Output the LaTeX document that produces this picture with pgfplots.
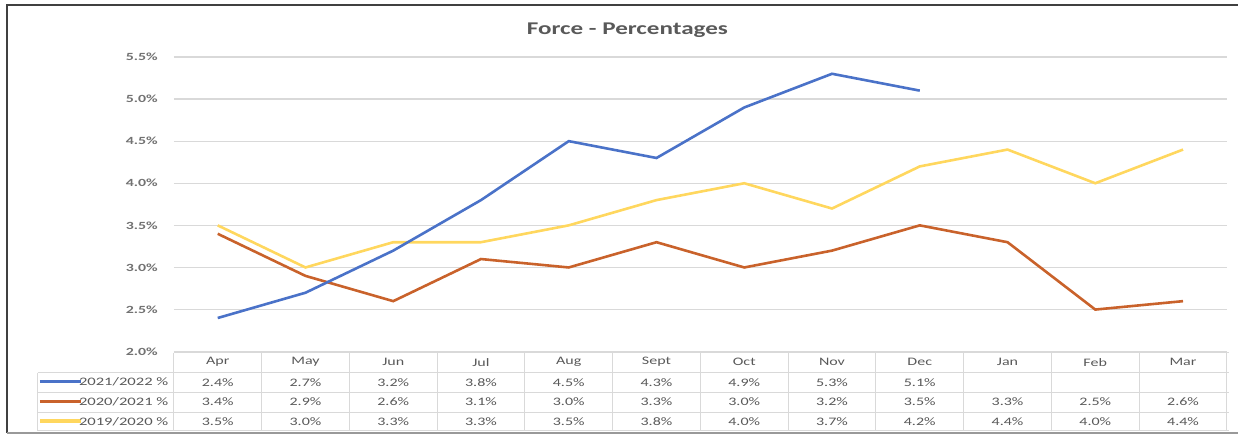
\documentclass[border=0pt]{standalone}
\usepackage{pgfplots}
\pgfplotsset{compat=1.18}
\usepackage{graphicx}
\usepackage{fontspec}
\setmainfont{Carlito}
\definecolor{cblue}{HTML}{4A72C8}
\definecolor{corange}{HTML}{C9622B}
\definecolor{cyellow}{HTML}{FFD75E}
\definecolor{txt}{HTML}{595959}
\definecolor{tline}{HTML}{D9D9D9}
\newcommand{\wx}[1]{\scalebox{1.4}[1]{#1}}
\begin{document}
\begin{tikzpicture}[x=1bp,y=1bp]
\path (0,0) rectangle (1239,439);
% frame
\draw[black!75, line width=2.2bp] (7,6) -- (7,434) -- (1239,434);
\draw[black!40, line width=1.8bp] (7,6) -- (1239,6);
\node[font=\fontsize{18}{20}\selectfont\bfseries, text=txt] at (628,409) {\wx{Force - Percentages}};
\begin{axis}[
  at={(174bp,87bp)}, anchor=south west,
  scale only axis, width=1054bp, height=295bp,
  xmin=-0.5, xmax=11.5, ymin=2, ymax=5.5,
  xtick=\empty,
  ytick={2,2.5,3,3.5,4,4.5,5,5.5},
  yticklabel={\scalebox{1.45}[1]{\pgfmathprintnumber[fixed,fixed zerofill,precision=1]{\tick}\%}},
  /pgf/number format/assume math mode=true,
  yticklabel style={font=\fontsize{11}{13}\selectfont\bfseries, text=txt!85, inner sep=0pt, xshift=-16bp},
  axis line style={draw=none},
  major tick style={draw=none},
  ymajorgrids, grid style={tline, line width=1.2bp},
  clip=false,
]
\addplot[cyellow, line width=2.6bp] coordinates {(0,3.5)(1,3.0)(2,3.3)(3,3.3)(4,3.5)(5,3.8)(6,4.0)(7,3.7)(8,4.2)(9,4.4)(10,4.0)(11,4.4)};
\addplot[corange, line width=2.6bp] coordinates {(0,3.4)(1,2.9)(2,2.6)(3,3.1)(4,3.0)(5,3.3)(6,3.0)(7,3.2)(8,3.5)(9,3.3)(10,2.5)(11,2.6)};
\addplot[cblue, line width=2.6bp] coordinates {(0,2.4)(1,2.7)(2,3.2)(3,3.8)(4,4.5)(5,4.3)(6,4.9)(7,5.3)(8,5.1)};
\end{axis}
% data table
\draw[tline, line width=1bp] (174,86) -- (1230,86);
\foreach \yy in {66,46,26,8} \draw[tline, line width=1bp] (38,\yy) -- (1230,\yy);
\draw[tline, line width=1bp] (38,66) -- (38,8);
\foreach \i in {0,...,12} \draw[tline, line width=1bp] ({174+87.83*\i},86) -- ({174+87.83*\i},8);
\foreach \m [count=\i from 0] in {Apr,May,Jun,Jul,Aug,Sept,Oct,Nov,Dec,Jan,Feb,Mar}
  \node[font=\fontsize{11.5}{13}\selectfont, text=txt] at ({174+87.83*(\i+0.5)},76.5) {\wx{\m}};
\foreach \v [count=\i from 0] in {2.4,2.7,3.2,3.8,4.5,4.3,4.9,5.3,5.1}
  \node[font=\fontsize{11.5}{13}\selectfont, text=txt] at ({174+87.83*(\i+0.5)},56.5) {\wx{\v\%}};
\foreach \v [count=\i from 0] in {3.4,2.9,2.6,3.1,3.0,3.3,3.0,3.2,3.5,3.3,2.5,2.6}
  \node[font=\fontsize{11.5}{13}\selectfont, text=txt] at ({174+87.83*(\i+0.5)},36.5) {\wx{\v\%}};
\foreach \v [count=\i from 0] in {3.5,3.0,3.3,3.3,3.5,3.8,4.0,3.7,4.2,4.4,4.0,4.4}
  \node[font=\fontsize{11.5}{13}\selectfont, text=txt] at ({174+87.83*(\i+0.5)},17) {\wx{\v\%}};
% legend keys
\draw[cblue, line width=3.4bp] (40,57) -- (81,57);
\draw[corange, line width=3.4bp] (40,37) -- (81,37);
\draw[cyellow, line width=3.4bp] (40,17.5) -- (81,17.5);
\node[anchor=east, font=\fontsize{11.5}{13}\selectfont, text=txt] at (172,56.5) {\scalebox{1.45}[1]{2021/2022 \%}};
\node[anchor=east, font=\fontsize{11.5}{13}\selectfont, text=txt] at (172,36.5) {\scalebox{1.45}[1]{2020/2021 \%}};
\node[anchor=east, font=\fontsize{11.5}{13}\selectfont, text=txt] at (172,17) {\scalebox{1.45}[1]{2019/2020 \%}};
\end{tikzpicture}
\end{document}
